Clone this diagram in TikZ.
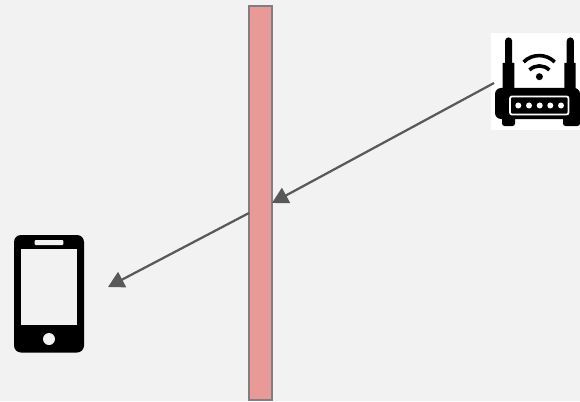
\documentclass[tikz,border=0pt]{standalone}
\usetikzlibrary{arrows.meta}
\definecolor{bgc}{HTML}{F2F2F2}
\definecolor{wallc}{HTML}{EA9999}
\definecolor{edgec}{HTML}{7F7F7F}
\definecolor{linkc}{HTML}{595959}
\tikzset{
  wallbox/.style={draw=edgec,fill=wallc,line width=1.5pt,minimum width=23pt,minimum height=394pt,inner sep=0pt,outer sep=0pt},
  iconbox/.style={fill=white,minimum width=89pt,minimum height=97pt,inner sep=0pt,outer sep=0pt},
  link/.style={draw=linkc,line width=2.25pt,-{Triangle[length=16pt,width=17pt]}},
  wave/.style={draw=black,line width=3.6pt}
}
\begin{document}
\begin{tikzpicture}[x=1pt,y=-1pt]
\useasboundingbox (0,0) rectangle (580,401);
\fill[bgc] (0,0) rectangle (580,401);
% wall
\node[wallbox] (wall) at (260.5,203) {};
% router
\node[iconbox] (router) at (535.5,81.5) {};
\fill[black] (505,89) -- (505,41) arc[start angle=180,end angle=360,radius=3.6] -- (512.2,63) -- (514.3,63) -- (514.3,89) -- (502.7,89) -- (502.7,63) -- (505,63) -- cycle;
\fill[black] (566.7,89) -- (566.7,41) arc[start angle=180,end angle=360,radius=3.6] -- (573.9,63) -- (575.7,63) -- (575.7,89) -- (564.3,89) -- (564.3,63) -- (566.7,63) -- cycle;
\fill[black,rounded corners=6pt] (495,88) rectangle (580,119);
\fill[black,rounded corners=2.5pt] (502,110) rectangle (515,126);
\fill[black,rounded corners=2.5pt] (563,110) rectangle (580,126);
\draw[white,line width=1.8pt,rounded corners=2pt] (510,96.5) rectangle (568.5,114.5);
\foreach \dotx in {518.3,529,539.7,550.3,561}
  \fill[white] (\dotx,105.5) circle[radius=3];
\fill[black] (539.4,76.7) circle[radius=3.5];
\draw[wave] (523.6,62) arc[start angle=225,end angle=315,radius=22];
\draw[wave] (529.5,70) arc[start angle=225,end angle=315,radius=14];
% phone
\fill[black,rounded corners=7pt] (14,235) rectangle (84,352.5);
\fill[bgc] (21,249.3) rectangle (77.3,325);
\fill[bgc,rounded corners=1pt] (34.7,240) rectangle (63.3,245);
\fill[bgc] (49,339) circle[radius=6];
\coordinate (phone) at (108,287);
% links
\coordinate (r1) at (494,83);
\coordinate (w1) at (272,203);
\coordinate (w2) at (249,213);
\path[link] (r1) -- (w1);
\path[link] (w2) -- (phone);
\end{tikzpicture}
\end{document}
